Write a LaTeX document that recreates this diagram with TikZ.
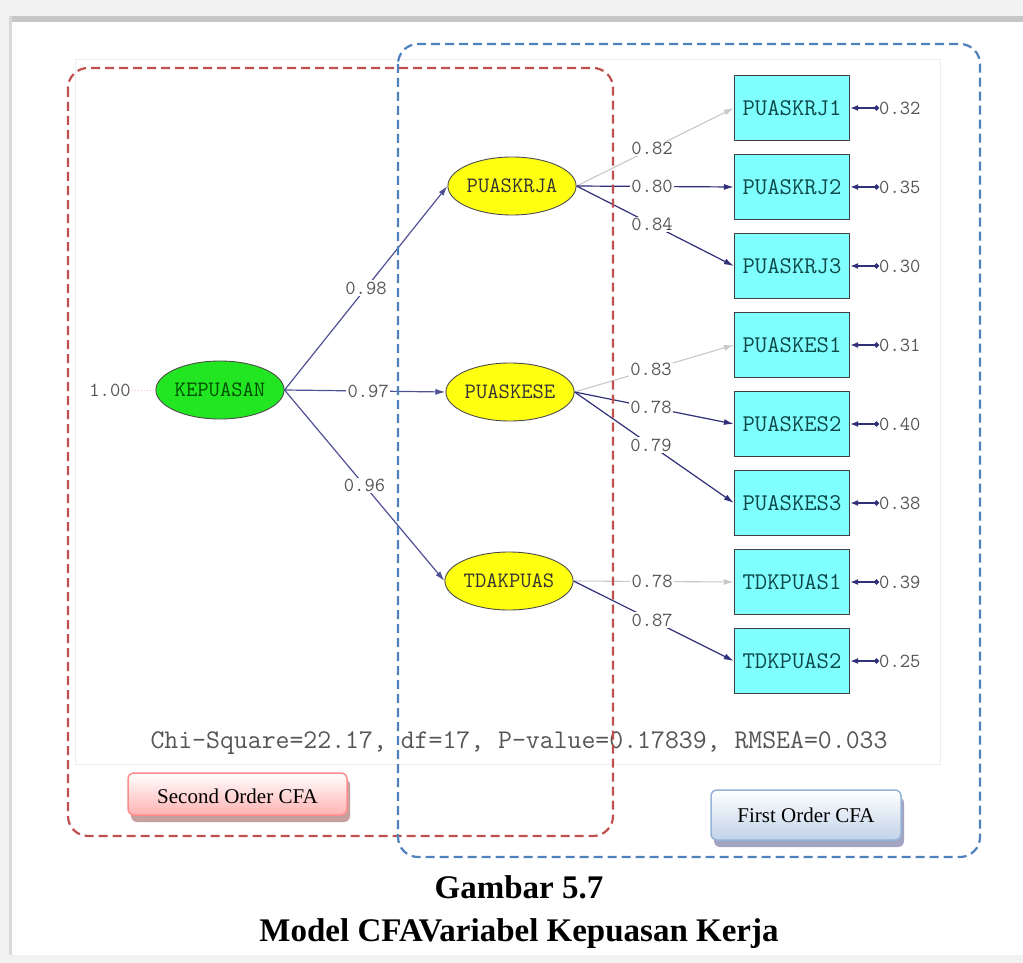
\documentclass[tikz,border=0pt]{standalone}
\usepackage{fontspec}
\setmainfont{Liberation Serif}
\usetikzlibrary{arrows.meta,shapes.geometric}
\definecolor{redframe}{HTML}{C0504D}
\definecolor{blueframe}{HTML}{4F81BD}
\definecolor{pathcol}{HTML}{505096}
\definecolor{loadcol}{HTML}{30307A}
\definecolor{fixedcol}{HTML}{C8C8C8}
\definecolor{coefcol}{HTML}{555555}
\definecolor{boxcyan}{HTML}{80FFFF}
\definecolor{boxtext}{HTML}{0E4848}
\definecolor{latgreen}{HTML}{22E622}
\definecolor{latyellow}{HTML}{FFFF10}
\newcommand{\lisfont}[1]{\fontsize{#1}{#1}\selectfont\ttfamily}
\begin{document}
\begin{tikzpicture}[x=1pt,y=-1pt]
\tikzstyle{latent}=[ellipse,draw=black!70,line width=0.9pt,inner sep=0pt,minimum width=116pt,minimum height=58pt,font=\lisfont{22},text=black!80]
\tikzstyle{observed}=[rectangle,draw=black!75,line width=1.3pt,fill=boxcyan,minimum width=115pt,minimum height=65pt,inner sep=0pt,font=\lisfont{24},text=boxtext]
\tikzset{
	path line/.style={draw=pathcol,line width=1.2pt,-{Latex[length=10pt,width=6pt]}},
	load line/.style={draw=loadcol,line width=1.2pt,-{Latex[length=10pt,width=6pt]}},
	fixed line/.style={draw=fixedcol,line width=1.1pt,-{Latex[length=10pt,width=6pt]}},
	error line/.style={draw=loadcol,line width=1.4pt,{Circle[length=5pt]}-{Latex[length=8pt,width=6pt]}},
	coef/.style={fill=white,inner sep=1.5pt,font=\lisfont{20},text=coefcol},
	frame/.style={rounded corners=20pt,line width=2.2pt,dash pattern=on 9pt off 5pt},
	button/.style={rounded corners=6pt,line width=1.5pt,font=\fontsize{21}{21}\selectfont,text=black}
}
% page and frame
\useasboundingbox (0,0) rectangle (1023,963);
\fill[black!5] (0,0) rectangle (1023,963);
\fill[white] (12,20) rectangle (1023,955);
\fill[black!22] (12,16) rectangle (1023,22);
\fill[black!15] (9,16) rectangle (12,955);
\draw[black!7,line width=1pt] (75,60) rectangle (940,764);

% latent variables
\node[latent,fill=latgreen,text=black!70!green] (KEPUASAN) at (220,390) {KEPUASAN};
\node[latent,fill=latyellow] (PUASKRJA) at (512,186) {PUASKRJA};
\node[latent,fill=latyellow] (PUASKESE) at (510,392) {PUASKESE};
\node[latent,fill=latyellow] (TDAKPUAS) at (509,581) {TDAKPUAS};

% indicators with error variances
\foreach \ind/\y/\err in {PUASKRJ1/108/0.32,PUASKRJ2/187/0.35,PUASKRJ3/266/0.30,
	PUASKES1/345/0.31,PUASKES2/424/0.40,PUASKES3/503/0.38,
	TDKPUAS1/582/0.39,TDKPUAS2/661/0.25}{
	\node[observed] (\ind) at (792,\y) {\ind};
	\node[coef,anchor=west,inner sep=0pt] (e\ind) at (879,\y) {\err};
	\draw[error line] (e\ind.west) -- (\ind.east);
}

% second order
\node[coef] (varK) at (110,390) {1.00};
\draw[draw=red!25,line width=1pt,dotted] (varK.east) -- (KEPUASAN.west);
\draw[path line] (KEPUASAN.east) -- node[coef,pos=0.5]{0.98} (PUASKRJA.west);
\draw[path line] (KEPUASAN.east) -- node[coef,pos=0.52]{0.97} (PUASKESE.west);
\draw[path line] (KEPUASAN.east) -- node[coef,pos=0.5]{0.96} (TDAKPUAS.west);

% first order
\draw[fixed line] (PUASKRJA.east) -- node[coef,pos=0.48]{0.82} (PUASKRJ1.west);
\draw[load line] (PUASKRJA.east) -- node[coef,pos=0.48]{0.80} (PUASKRJ2.west);
\draw[load line] (PUASKRJA.east) -- node[coef,pos=0.48]{0.84} (PUASKRJ3.west);
\draw[fixed line] (PUASKESE.east) -- node[coef,pos=0.48]{0.83} (PUASKES1.west);
\draw[load line] (PUASKESE.east) -- node[coef,pos=0.48]{0.78} (PUASKES2.west);
\draw[load line] (PUASKESE.east) -- node[coef,pos=0.48]{0.79} (PUASKES3.west);
\draw[fixed line] (TDAKPUAS.east) -- node[coef,pos=0.49]{0.78} (TDKPUAS1.west);
\draw[load line] (TDAKPUAS.east) -- node[coef,pos=0.49]{0.87} (TDKPUAS2.west);

\node[font=\lisfont{27},text=coefcol] (fit) at (519,743) {Chi-Square=22.17, df=17, P-value=0.17839, RMSEA=0.033};

% dashed groups
\draw[frame,draw=redframe] (68,68) rectangle (613,836);
\draw[frame,draw=blueframe] (398,44) rectangle (980,857);

% buttons
\fill[rounded corners=6pt,fill=red!25!gray!60] (131,779) rectangle (350,822);
\draw[button,draw=red!45,top color=white,bottom color=red!30] (128,773) rectangle node[yshift=-2pt] (second) {Second Order CFA} (347,815);
\fill[rounded corners=6pt,fill=blue!20!gray!60] (714,797) rectangle (904,847);
\draw[button,draw=blueframe!60,top color=white,bottom color=blueframe!35] (711,790) rectangle node (first) {First Order CFA} (901,840);

% caption
\node[font=\fontsize{33}{33}\selectfont\bfseries] (cap1) at (519,887) {Gambar 5.7};
\node[font=\fontsize{33}{33}\selectfont\bfseries] (cap2) at (519,934) {Model CFAVariabel Kepuasan Kerja};
\end{tikzpicture}
\end{document}
